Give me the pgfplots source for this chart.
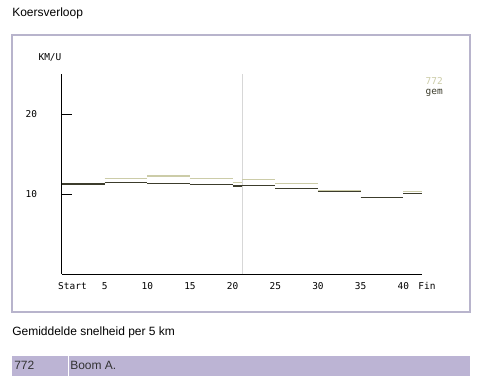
\documentclass[border=0pt]{standalone}
\usepackage{pgfplots}
\pgfplotsset{compat=1.18}
\usepackage{fontspec}
\setmainfont{Liberation Sans}
\newfontfamily\monofont{DejaVu Sans Mono}
\definecolor{lightser}{RGB}{204,204,168}
\definecolor{darkser}{RGB}{60,60,44}
\definecolor{framec}{RGB}{184,180,204}
\definecolor{rowbg}{RGB}{188,180,212}
\definecolor{halfc}{RGB}{215,215,215}
\newcommand{\mono}{\monofont\fontsize{7.1pt}{8pt}\selectfont}
\newcommand{\txt}{\fontsize{9pt}{11pt}\selectfont}
\begin{document}
\begin{tikzpicture}
\begin{scope}[x=0.75pt,y=0.75pt,shift={(-46.5pt,-76.5pt)}]
\fill[white] (0,0) rectangle (485,376);
\node[anchor=west,inner sep=0,font=\txt] at (12,363) {Koersverloop};
\draw[framec,line width=1.1pt] (12,341) rectangle (470,64);
\node[inner sep=0,font=\mono] at (50,319) {KM/U};
\node[anchor=east,inner sep=0,font=\mono,text=lightser] at (443,295) {772};
\node[anchor=east,inner sep=0,font=\mono,text=darkser] at (443,283) {gem};
\node[anchor=west,inner sep=0,font=\txt] at (12,44) {Gemiddelde snelheid per 5 km};
\fill[rowbg] (12,0) rectangle (470,20.5);
\draw[white,line width=0.75pt] (68.5,0) -- (68.5,20.5);
\node[anchor=west,inner sep=0,font=\txt,text=black!80] at (14,11) {772};
\node[anchor=west,inner sep=0,font=\txt,text=black!80] at (70,11) {Boom A.};
\end{scope}
\begin{axis}[scale only axis,
  width=270pt, height=150pt,
  xmin=0, xmax=42.195, ymin=0, ymax=25, enlargelimits=false,
  axis x line=bottom, axis y line=left,
  axis line style={-, black, line width=0.75pt},
  xtick={5,10,...,40}, ytick={10,20},
  tick align=inside, major tick length=7.5pt,
  x tick style={draw=none},
  y tick style={black, line width=0.75pt},
  xticklabel style={anchor=center, yshift=-9pt, font=\mono},
  yticklabel style={anchor=center, xshift=-23pt, font=\mono},
  /pgf/number format/assume math mode=true,
  clip=false, unbounded coords=jump]
\addplot[halfc, line width=0.75pt] coordinates {(21.0975,0) (21.0975,25)};
\addplot[lightser, line width=1pt] coordinates {
 (0,11.33) (5,11.33) (5,nan)
 (5,11.96) (10,11.96) (10,nan)
 (10,12.25) (15,12.25) (15,nan)
 (15,11.96) (20,11.96) (20,nan)
 (20,11.46) (21.0975,11.46) (21.0975,nan)
 (21.0975,11.83) (25,11.83) (25,nan)
 (25,11.33) (30,11.33) (30,nan)
 (30,10.41) (35,10.41) (35,nan)
 (35,9.6) (40,9.6) (40,nan)
 (40,10.33) (42.195,10.33)};
\addplot[darkser, line width=1pt] coordinates {
 (0,11.25) (5,11.25) (5,nan)
 (5,11.46) (10,11.46) (10,nan)
 (10,11.33) (15,11.33) (15,nan)
 (15,11.21) (20,11.21) (20,nan)
 (20,11.0) (21.0975,11.0) (21.0975,nan)
 (21.0975,11.08) (25,11.08) (25,nan)
 (25,10.71) (30,10.71) (30,nan)
 (30,10.33) (35,10.33) (35,nan)
 (35,9.58) (40,9.58) (40,nan)
 (40,10.08) (42.195,10.08)};
\node[font=\mono] at (axis cs:1.23,0) [yshift=-9pt] {Start};
\node[font=\mono] at (axis cs:42.78,0) [yshift=-9pt] {Fin};
\end{axis}
\end{tikzpicture}
\end{document}
